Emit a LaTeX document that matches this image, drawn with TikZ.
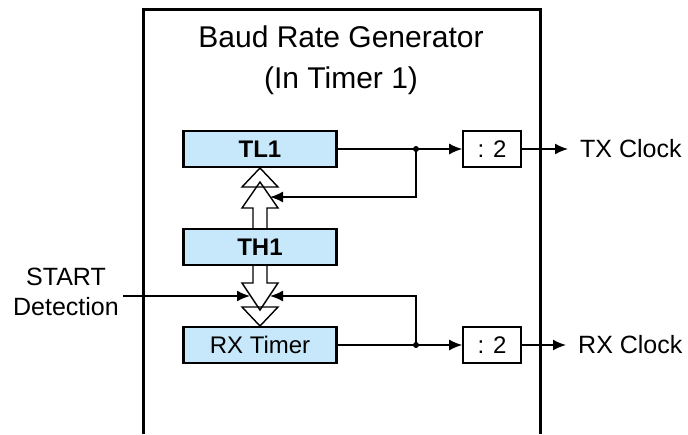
\documentclass[tikz,border=0pt]{standalone}
\usepackage{fontspec}
\setmainfont{Liberation Sans}
\usepackage{xcolor}
\usetikzlibrary{positioning, arrows.meta}
\definecolor{regblue}{RGB}{198,232,250}

\begin{document}
\begin{tikzpicture}[x=1pt, y=-1pt,
        reg/.style={rectangle, draw=black, line width=2.2pt, fill=regblue, minimum width=153pt, minimum height=36pt, inner sep=0pt, font=\fontsize{24}{28}\selectfont},
        regbold/.style={reg, font=\fontsize{24}{28}\selectfont\bfseries},
        divbox/.style={rectangle, draw=black, line width=1.6pt, minimum width=58pt, minimum height=36pt, inner sep=0pt, font=\fontsize{24}{28}\selectfont},
        lbl/.style={inner sep=0pt, font=\fontsize{25}{30}\selectfont},
        titlelbl/.style={inner sep=0pt, anchor=base, font=\fontsize{30}{36}\selectfont},
        arrow/.style={-{Latex[length=13pt, width=11pt]}, line width=1.6pt},
        hollow/.style={draw=black, line width=1.4pt, line join=miter},
        junction/.style={circle, fill=black, inner sep=0pt, minimum size=6pt}
    ]

        \useasboundingbox (0,0) rectangle (688,434);

        % Frame
        \draw[line width=3pt, line join=miter] (143,434) -- (143,9) -- (540,9) -- (540,434);
        \node[titlelbl] (title) at (341,47) {Baud Rate Generator};
        \node[titlelbl] (subtitle) at (341,88) {(In Timer 1)};

        % Registers
        \node[regbold] (tl1) at (260,149) {TL1};
        \node[regbold] (th1) at (260,247) {TH1};
        \node[reg] (rxt) at (260,345) {RX Timer};

        % Dividers
        \node[divbox] (divtx) at (492,149) {: 2};
        \node[divbox] (divrx) at (492,345) {: 2};

        % Labels
        \node[lbl, anchor=west] (txclk) at (580,149) {TX Clock};
        \node[lbl, anchor=west] (rxclk) at (578,345) {RX Clock};
        \node[lbl, align=center, inner xsep=4pt] (start) at (66,292) {START\\Detection};

        % Hollow arrows
        \draw[hollow] (260,168) -- (242,187) -- (278,187) -- cycle;
        \draw[hollow] (253,229) -- (253,208) -- (242,208) -- (260,182) -- (278,208) -- (267,208) -- (267,229);
        \draw[hollow] (253,265) -- (253,283) -- (242,283) -- (260,310) -- (278,283) -- (267,283) -- (267,265);
        \draw[hollow] (242,307) -- (278,307) -- (260,326) -- cycle;

        \coordinate (fbtx) at (270,197);
        \coordinate (fbl) at (250,296);
        \coordinate (fbr) at (270,296);

        % Connections
        \draw[arrow] (tl1.east) -- (divtx.west);
        \node[junction] (jtx) at (416,149) {};
        \draw[arrow] (jtx.center) |- (fbtx);
        \draw[arrow, shorten >=12pt] (divtx.east) -- (txclk.west);

        \draw[arrow] (start.east |- fbl) -- (fbl);

        \draw[arrow] (rxt.east) -- (divrx.west);
        \node[junction] (jrx) at (416,345) {};
        \draw[arrow] (jrx.center) |- (fbr);
        \draw[arrow, shorten >=12pt] (divrx.east) -- (rxclk.west);

    \end{tikzpicture}
\end{document}
